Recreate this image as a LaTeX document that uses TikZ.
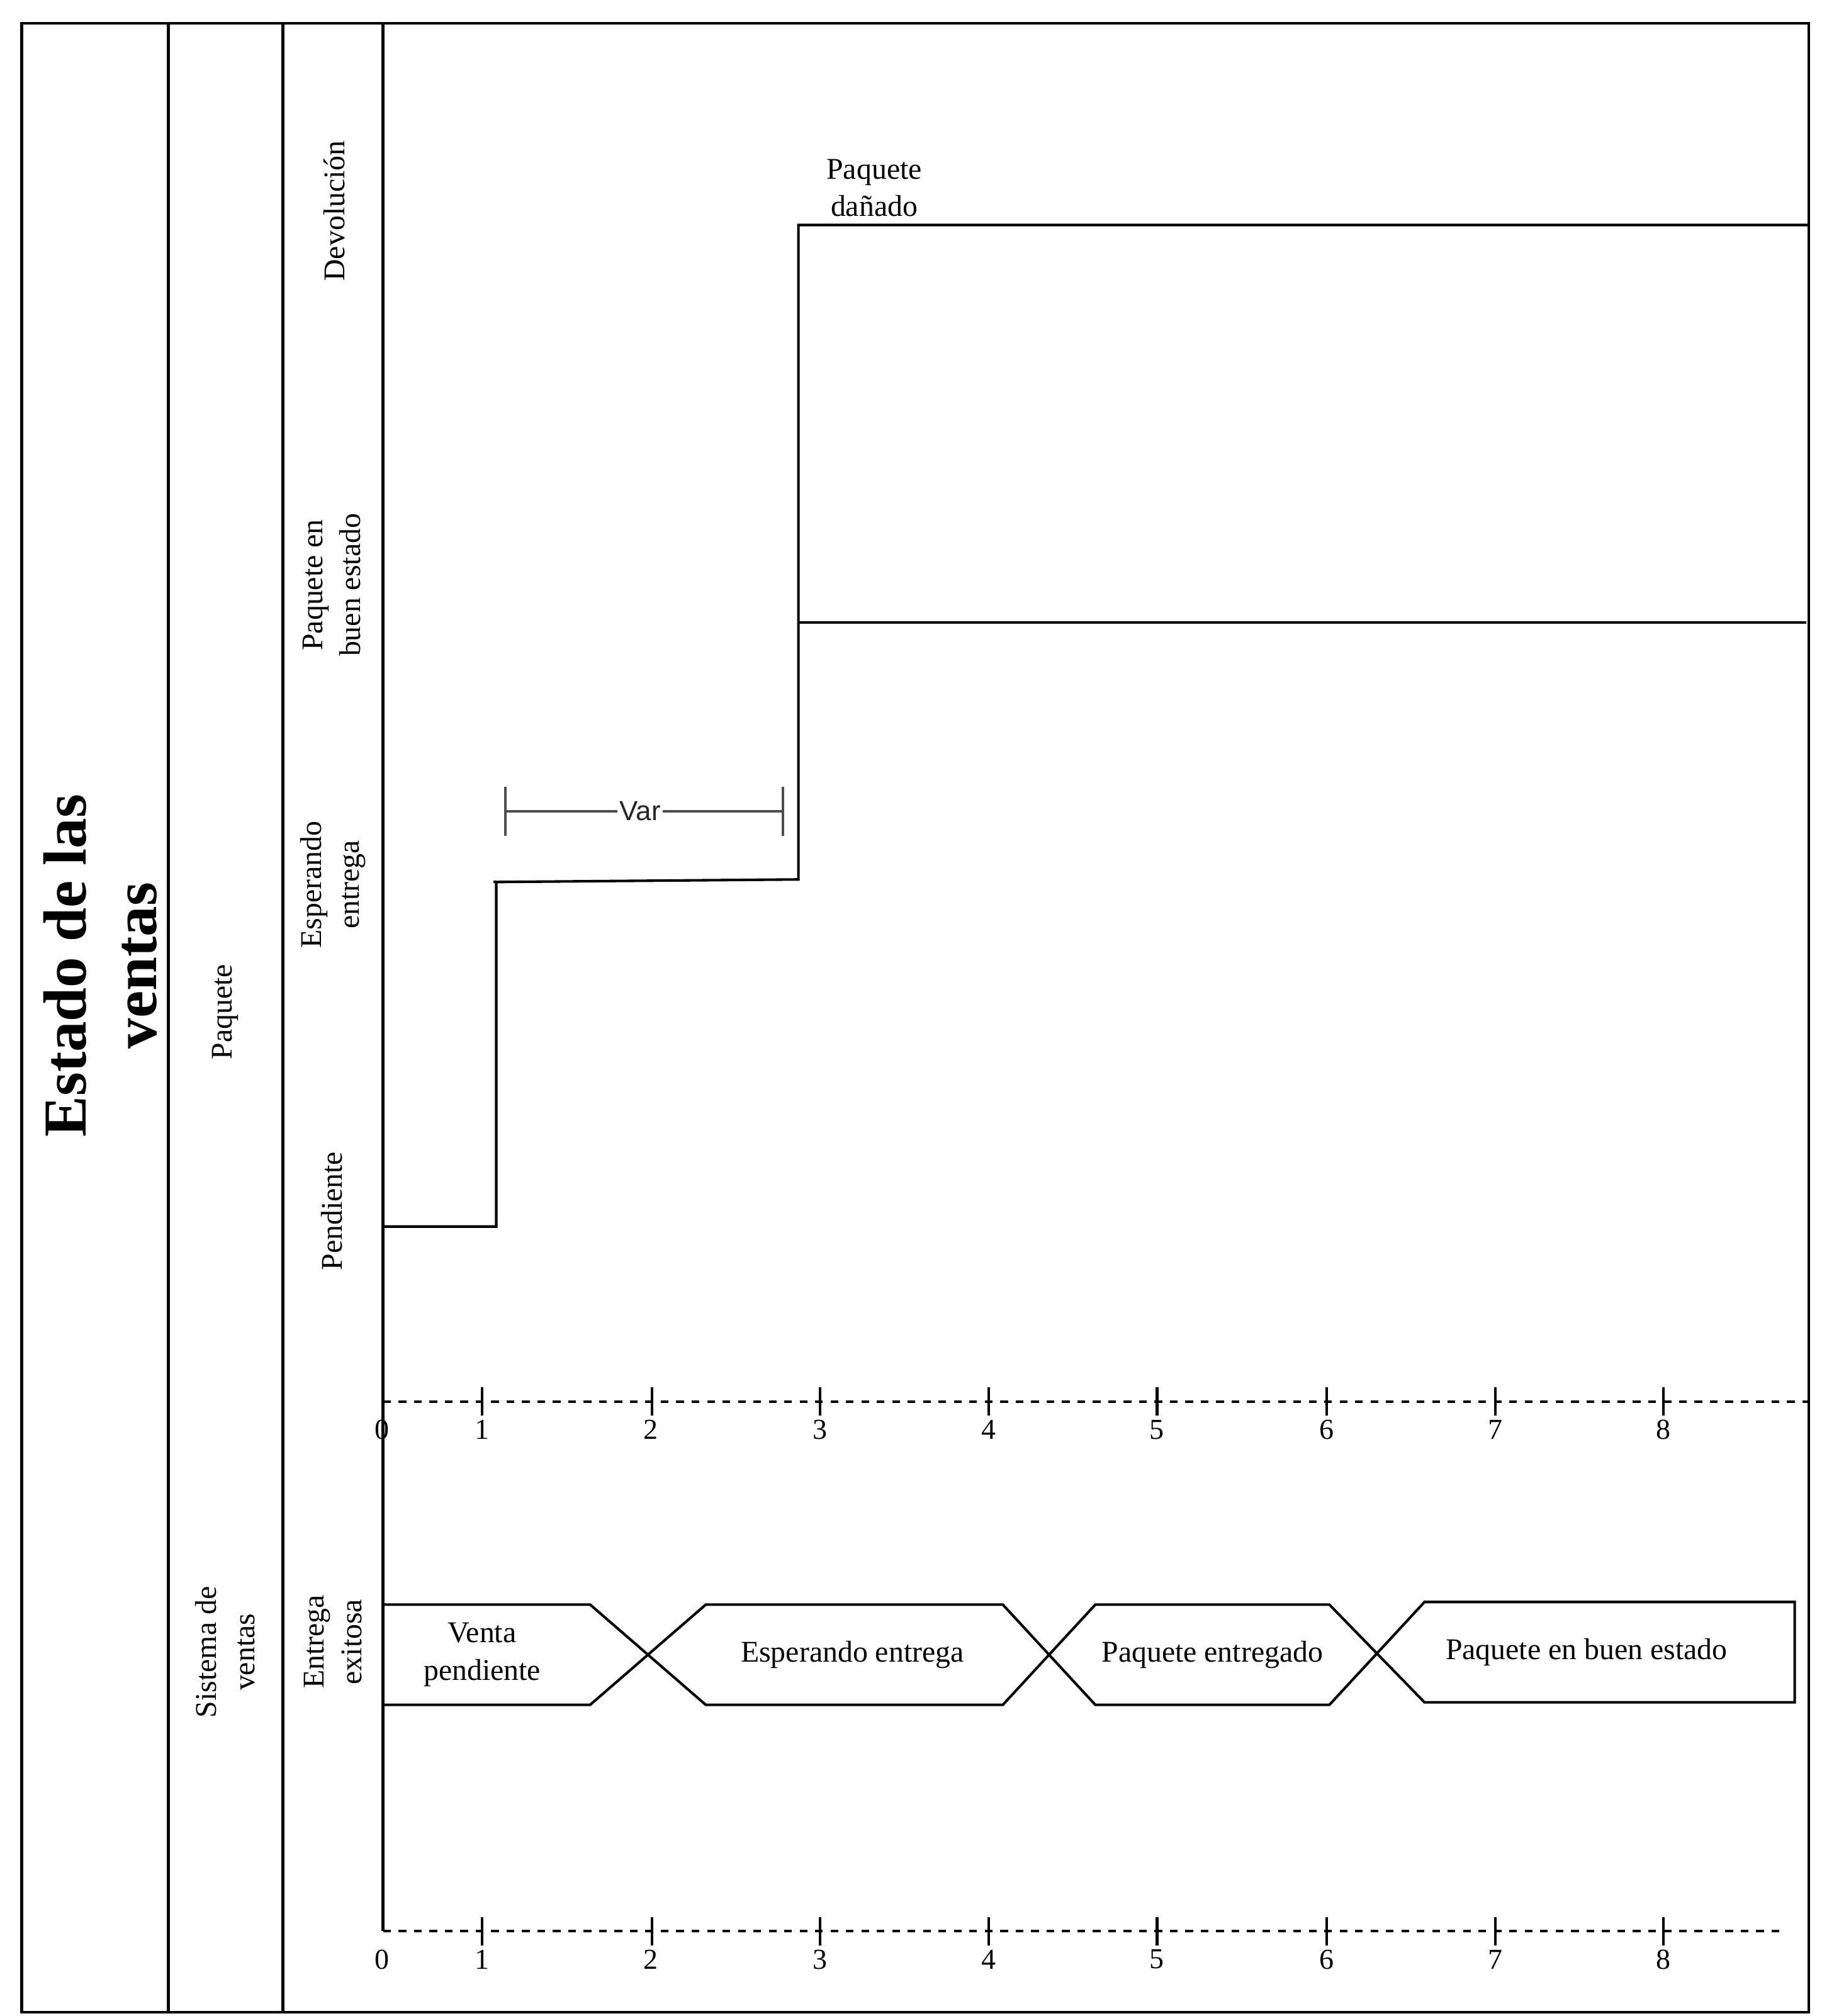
\documentclass[tikz,border=0pt]{standalone}
\usepackage{fontspec}
\setmainfont{Liberation Serif}
\newfontfamily\varfont{Liberation Sans}
\definecolor{bracketgray}{HTML}{4D4D4D}
\begin{document}
\begin{tikzpicture}[x=1pt,y=-1pt,line join=miter,
  frame/.style={line width=2.2pt},
  sig/.style={line width=2pt},
  lbl/.style={font=\fontsize{23.4}{29}\selectfont,align=center,inner sep=0pt},
  vlbl/.style={lbl,rotate=90},
  axisline/.style={line width=2pt,dash pattern=on 6pt off 6pt},
  tickmark/.style={line width=2pt},
  num/.style={font=\fontsize{22.5}{26}\selectfont,inner sep=0pt},
  busline/.style={line width=2pt}]
\useasboundingbox (0,0) rectangle (1430,1568);
% frame and columns
\draw[frame] (17,18) rectangle (1407,1565);
\draw[frame] (131,18) -- (131,1565);
\draw[frame] (220,18) -- (220,1565);
\draw[frame] (298,18) -- (298,1502);
% header texts
\node[rotate=90,align=center,inner sep=0pt,font=\bfseries\fontsize{47.5}{55}\selectfont] (title) at (78,751) {Estado de las\\ventas};
\node[vlbl] (paq) at (175,787) {Paquete};
\node[vlbl,font=\fontsize{23.4}{30}\selectfont] (sis) at (175,1285) {Sistema de\\ventas};
\node[vlbl] (entex) at (259,1277) {Entrega\\exitosa};
\node[vlbl] (pend) at (258,942) {Pendiente};
\node[vlbl] (espent) at (259,688) {Esperando\\entrega};
\node[vlbl] (pbe) at (258,455) {Paquete en\\buen estado};
\node[vlbl] (dev) at (260,164) {Devolución};
% upper signal
\coordinate (s0) at (298,954);
\coordinate (s1) at (386,954);
\coordinate (s2) at (386,686);
\coordinate (s3) at (621,684);
\coordinate (s4) at (621,175);
\coordinate (s5) at (1407,175);
\coordinate (b0) at (621,484);
\coordinate (b1) at (1405,484);
\draw[sig] (s0) -- (s1) -- (s2) -- (s3) -- (s4) -- (s5);
\draw[sig] (b0) -- (b1);
\draw[sig] (s2) -- ++(-2,0);
\node[lbl] (dan) at (680,146) {Paquete\\dañado};
% Var bracket
\node[inner sep=1.5pt,text=black!85,font=\varfont\fontsize{21.5}{24}\selectfont] (var) at (498,631) {Var};
\coordinate (vl) at (393,631);
\coordinate (vr) at (609,631);
\draw[bracketgray,line width=2pt] (vl) -- (var.west) (var.east) -- (vr);
\draw[bracketgray,line width=2pt] (393,612) -- (393,650) (609,612) -- (609,650);
% axes
\coordinate (ua0) at (298,1090);
\coordinate (ua1) at (1407,1090);
\coordinate (la0) at (298,1502);
\coordinate (la1) at (1386,1502);
\draw[axisline] (ua0) -- (ua1);
\draw[axisline] (la0) -- (la1);
\foreach \x/\n in {375/1,507/2,638/3,769/4,900/5,1032/6,1163/7,1294/8}{
  \draw[tickmark] (\x,1079) -- (\x,1101);
  \draw[tickmark] (\x,1491) -- (\x,1513);
}
\foreach \x/\n in {297/0,375/1,506/2,638/3,769/4,900/5,1032/6,1163/7,1294/8}{
  \node[num] (ut\n) at (\x,1112) {\n};
  \node[num] (lt\n) at (\x,1524) {\n};
}
% bus timing
\draw[busline] (298,1248) -- (459,1248) -- (549,1326) -- (780,1326) -- (852,1248) -- (1034,1248) -- (1108,1324) -- (1396,1324) -- (1396,1246) -- (1108,1246) -- (1034,1326) -- (852,1326) -- (780,1248) -- (549,1248) -- (459,1326) -- (298,1326);
\node[lbl] (t1) at (375,1287) {Venta\\pendiente};
\node[lbl] (t2) at (663,1287) {Esperando entrega};
\node[lbl] (t3) at (943,1287) {Paquete entregado};
\node[lbl] (t4) at (1234,1285) {Paquete en buen estado};
\end{tikzpicture}
\end{document}
